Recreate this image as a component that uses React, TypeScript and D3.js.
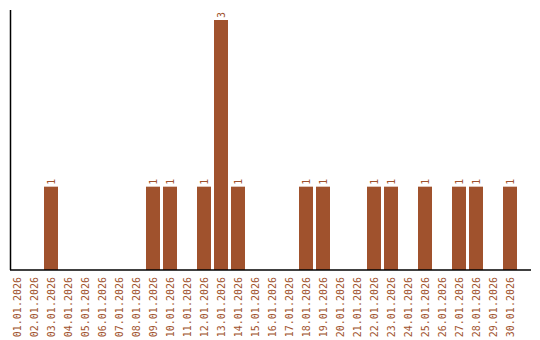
import React from "react";
import * as d3 from "d3";

const categories = Array.from({ length: 30 }, (_, i) => `${String(i + 1).padStart(2, "0")}.01.2026`);
const values = [0,0,1,0,0,0,0,0,1,1,0,1,3,1,0,0,0,1,1,0,0,1,1,0,1,0,1,1,0,1];

const W = 540, H = 340;
const color = "#a0522d";
const font = "'DejaVu Sans Mono', monospace";

export default function App() {
  const x = d3.scaleBand<string>().domain(categories).range([10, 517]).paddingInner(3 / 17).paddingOuter(0);
  const y = d3.scaleLinear().domain([0, 3]).range([270, 20]);
  return (
    <svg width={W} height={H} style={{ position: "absolute", left: 0, top: 0 }}>
      {categories.map((c, i) => values[i] > 0 ? (
        <g key={c}>
          <rect x={x(c)} y={y(values[i])} width={x.bandwidth()} height={y(0) - y(values[i])} fill={color} />
          <text transform={`translate(${x(c)! + x.bandwidth() / 2},${y(values[i]) - 2}) rotate(-90)`}
            dy="0.35em" fontFamily={font} fontSize={10} fill={color} textAnchor="start">{values[i]}</text>
        </g>
      ) : null)}
      <line x1={10.5} x2={10.5} y1={10} y2={270} stroke="#000" strokeWidth={1.5} />
      <line x1={10} x2={531} y1={270} y2={270} stroke="#000" strokeWidth={1.5} />
      {categories.map((c) => (
        <text key={c} transform={`translate(${x(c)! + x.bandwidth() / 2},277) rotate(-90)`}
          dy="0.35em" fontFamily={font} fontSize={10} fill={color} textAnchor="end">{c}</text>
      ))}
    </svg>
  );
}
